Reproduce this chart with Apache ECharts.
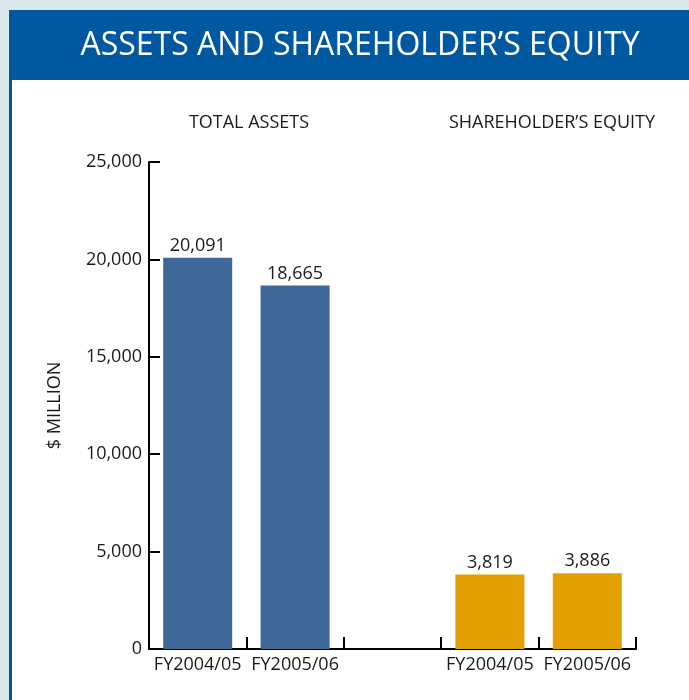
<!DOCTYPE html>
<html>
<head>
<meta charset="utf-8">
<script src="https://cdn.jsdelivr.net/npm/echarts@6/dist/echarts.min.js"></script>
<style>
  html, body { margin: 0; padding: 0; }
  #chart { width: 689px; height: 700px; }
</style>
</head>
<body>
<div id="chart"></div>
<script>
// 类目（中间留一个空位分隔两组）
const categories = ['FY2004/05', 'FY2005/06', '', 'FY2004/05', 'FY2005/06']
const totalAssets = [20091, 18665, null, null, null]
const shareholderEquity = [null, null, null, 3819, 3886]
const groupTitles = ['TOTAL ASSETS', 'SHAREHOLDER\u2019S EQUITY']

const font = '"Open Sans", "Noto Sans", sans-serif'
const chart = echarts.init(document.getElementById('chart'), null, { renderer: 'canvas' })

const labelStyle = {
  show: true,
  position: 'top',
  distance: 3,
  color: '#1a1a1a',
  fontFamily: font,
  fontSize: 18,
  formatter: p => p.value == null ? '' : p.value.toLocaleString('en-US')
}

const option = {
  animation: false,
  backgroundColor: '#dae8ea',
  graphic: [
    { type: 'rect', silent: true, z: -10, shape: { x: 9, y: 10, width: 700, height: 700 }, style: { fill: '#0058a0' } },
    { type: 'rect', silent: true, z: -9, shape: { x: 12, y: 80, width: 700, height: 700 }, style: { fill: '#ffffff' } }
  ],
  title: [
    {
      text: 'ASSETS AND SHAREHOLDER\u2019S EQUITY',
      left: 355, top: 25, textAlign: 'center',
      textStyle: { color: '#ffffff', fontFamily: font, fontSize: 32, fontWeight: 'normal' }
    },
    {
      text: groupTitles[0],
      left: 244, top: 109, textAlign: 'center',
      textStyle: { color: '#1a1a1a', fontFamily: font, fontSize: 18, fontWeight: 'normal' }
    },
    {
      text: groupTitles[1],
      left: 547, top: 109, textAlign: 'center',
      textStyle: { color: '#1a1a1a', fontFamily: font, fontSize: 18, fontWeight: 'normal' }
    }
  ],
  grid: { left: 149, right: 53, top: 162, bottom: 51 },
  xAxis: {
    type: 'category',
    data: categories,
    axisLine: { lineStyle: { color: '#000', width: 2 } },
    axisTick: { show: true, inside: true, length: 12, interval: 0, lineStyle: { color: '#000', width: 2 } },
    axisLabel: { color: '#1a1a1a', fontFamily: font, fontSize: 18, margin: 7, interval: 0 }
  },
  yAxis: {
    type: 'value',
    min: 0,
    max: 25000,
    interval: 5000,
    name: '$ MILLION',
    nameLocation: 'middle',
    nameGap: 85,
    nameTextStyle: { color: '#1a1a1a', fontFamily: font, fontSize: 18 },
    axisLine: { show: true, lineStyle: { color: '#000', width: 2 } },
    axisTick: { show: true, inside: true, length: 11, lineStyle: { color: '#000', width: 2 } },
    splitLine: { show: false },
    axisLabel: {
      color: '#1a1a1a', fontFamily: font, fontSize: 18, margin: 7,
      formatter: v => v.toLocaleString('en-US')
    }
  },
  series: [
    {
      name: 'Total Assets',
      type: 'bar',
      stack: 'all',
      data: totalAssets,
      barWidth: 69,
      itemStyle: { color: '#3d6898' },
      label: labelStyle
    },
    {
      name: 'Shareholder Equity',
      type: 'bar',
      stack: 'all',
      data: shareholderEquity,
      barWidth: 69,
      itemStyle: { color: '#e4a000' },
      label: labelStyle
    }
  ]
}

chart.setOption(option)
</script>
</body>
</html>
